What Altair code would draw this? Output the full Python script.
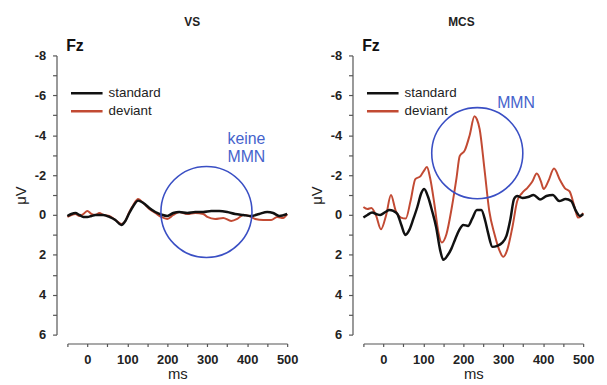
import altair as alt
import pandas as pd

FONT = "Liberation Sans"
RED = "#c24a33"
BLACK = "#111111"
BLUE = "#3a4fc4"

# ---------------- VS panel ----------------
vs_std_ms = [-50, -40, -30, -20, -10, 0, 10, 20, 40, 55, 70, 85, 95, 105, 115, 127, 140, 155, 170, 185,
             200, 215, 230, 250, 270, 290, 310, 330, 350, 370, 390, 410, 430, 450, 465, 480, 500]
vs_std_uv = [0.05, -0.05, -0.1, 0.0, 0.1, 0.1, 0.05, 0.0, 0.0, 0.1, 0.25, 0.5, 0.3, -0.1, -0.45, -0.72, -0.6,
             -0.35, -0.15, -0.02, 0.05, -0.1, -0.15, -0.1, -0.15, -0.15, -0.2, -0.2, -0.15, -0.05, 0.0, 0.05,
             -0.05, -0.15, -0.1, 0.05, -0.05]
vs_dev_ms = [-50, -40, -30, -20, -10, 0, 10, 20, 30, 40, 55, 70, 85, 95, 105, 115, 127, 140, 155, 170, 185,
             200, 215, 230, 250, 270, 290, 300, 320, 340, 360, 375, 390, 405, 420, 440, 460, 475, 490, 500]
vs_dev_uv = [0.1, 0.0, -0.05, 0.05, -0.05, -0.2, -0.05, 0.0, -0.1, 0.0, 0.05, 0.25, 0.45, 0.3, -0.15, -0.5,
             -0.8, -0.6, -0.3, -0.1, 0.1, 0.2, 0.0, -0.15, -0.05, -0.1, -0.05, 0.1, 0.2, 0.15, 0.3, 0.2, 0.0,
             0.05, 0.2, 0.25, 0.25, 0.1, 0.15, -0.05]

# ---------------- MCS panel ----------------
mcs_std_ms = [-50, -40, -28, -18, -8, 5, 15, 25, 35, 45, 55, 65, 75, 85, 95, 102, 112, 122, 132, 142, 150,
              160, 170, 180, 190, 200, 212, 222, 234, 245, 255, 262, 273, 285, 297, 308, 318, 327, 335, 348,
              362, 376, 392, 408, 424, 440, 456, 470, 482, 492, 500]
mcs_std_uv = [0.13, 0.0, -0.12, -0.05, 0.0, -0.15, -0.25, -0.2, -0.05, 0.5, 1.0, 0.75, 0.2, -0.4, -1.1, -1.3,
              -0.9, -0.2, 0.6, 1.75, 2.25, 2.05, 1.7, 1.2, 0.75, 0.5, 0.55, 0.2, -0.25, -0.25, 0.3, 0.9, 1.6,
              1.55, 1.4, 1.05, 0.2, -0.8, -0.95, -0.85, -0.9, -1.0, -0.78, -0.95, -1.0, -0.7, -0.8, -0.7,
              -0.2, 0.05, -0.05]
mcs_dev_ms = [-50, -40, -30, -18, -6, 7, 19, 31, 44, 56, 68, 80, 93, 101, 109, 117, 128, 138, 146, 158, 171,
              183, 191, 204, 216, 228, 234, 241, 253, 265, 278, 290, 300, 310, 323, 335, 347, 360, 372, 384,
              394, 401, 413, 427, 442, 454, 466, 479, 487, 495, 500]
mcs_dev_uv = [-0.4, -0.3, -0.35, 0.05, 0.72, 0.0, -1.0, -0.2, 0.13, 0.18, -0.7, -1.8, -1.95, -2.2, -2.4,
              -1.85, -0.5, 0.9, 1.38, 0.95, -0.35, -1.85, -2.95, -3.25, -4.0, -4.95, -4.8, -4.3, -2.3, -0.2,
              0.95, 1.75, 2.1, 1.75, 0.6, -0.7, -1.1, -1.35, -1.65, -2.08, -1.7, -1.3, -1.7, -2.33, -1.75,
              -1.35, -1.18, -0.36, 0.13, 0.05, -0.1]

panel_titles = ["VS", "MCS"]
circle_ms = [298, 235]
circle_uv = [-0.15, -3.1]
note_lines = [["keine", "MMN"], ["MMN"]]
note_ms = [398, 332]
note_uv = [[-3.8, -2.9], [-5.6]]
title_dx = [15, -12]

series_names = ["standard", "deviant"]
y_ticks = list(range(-8, 7))
x_ticks = list(range(-50, 501, 50))

AX = dict(labelFont=FONT, labelFontSize=13, labelFontWeight="bold", labelColor="#222",
          titleFont=FONT, titleFontWeight="normal", titleColor="#222",
          domainColor="#555", tickColor="#555", domainWidth=1.2, tickWidth=1.2,
          grid=False, labelOverlap=False, labelBound=False)


def panel(i, std_ms, std_uv, dev_ms, dev_uv):
    xs = alt.Scale(domain=[-50, 500], nice=False, zero=False)
    ys = alt.Scale(domain=[-8, 6], reverse=True, nice=False, zero=False)
    xaxis = alt.Axis(values=x_ticks,
                     labelExpr="datum.value % 100 === 0 ? format(datum.value, 'd') : ''",
                     offset=9, title="ms", titleFontSize=15, labelFlush=False, tickSize=3,
                     labelPadding=7, titlePadding=0, **AX)
    yaxis = alt.Axis(values=y_ticks, labelExpr="datum.value % 2 == 0 ? '' + datum.value : ''",
                     offset=11, title="μV", titleFontSize=15, tickSize=4, labelPadding=7,
                     titlePadding=6, **AX)

    std = pd.DataFrame({"ms": std_ms, "uv": std_uv})
    dev = pd.DataFrame({"ms": dev_ms, "uv": dev_uv})

    dev_line = alt.Chart(dev).mark_line(color=RED, strokeWidth=2, interpolate="monotone")
    std_line = alt.Chart(std).mark_line(color=BLACK, strokeWidth=2.5, interpolate="monotone")

    circ = alt.Chart(pd.DataFrame({"ms": [circle_ms[i]], "uv": [circle_uv[i]]})).mark_point(
        shape="circle", size=8464, filled=False, color=BLUE, strokeWidth=1.6, opacity=1)

    notes = pd.DataFrame({"ms": [note_ms[i]] * len(note_lines[i]), "uv": note_uv[i], "t": note_lines[i]})
    note = alt.Chart(notes).mark_text(font=FONT, fontSize=16, color="#4563cc", align="center",
                                      baseline="middle").encode(text="t:N")

    fz = alt.Chart(pd.DataFrame({"ms": [-53], "uv": [-8.45], "t": ["Fz"]})).mark_text(
        font=FONT, fontSize=16, fontWeight="bold", color=BLACK, align="left", baseline="middle").encode(
        text="t:N")

    leg = pd.DataFrame({"ms": [-41, -41], "ms2": [38, 38], "uv": [-6.1, -5.2], "s": series_names})
    leg_rule = alt.Chart(leg).mark_rule(strokeWidth=2.5).encode(
        x2="ms2",
        color=alt.Color("s:N", scale=alt.Scale(domain=series_names, range=[BLACK, RED]), legend=None))
    leg_text = alt.Chart(leg).mark_text(font=FONT, fontSize=13.5, color="#222", align="left",
                                        baseline="middle", dx=38).encode(text="s:N")

    return alt.layer(dev_line, std_line, circ, note, fz, leg_rule, leg_text).encode(
        x=alt.X("ms:Q", scale=xs, axis=xaxis), y=alt.Y("uv:Q", scale=ys, axis=yaxis)
    ).properties(
        width=222, height=282,
        title=alt.TitleParams(panel_titles[i], fontSize=12, fontWeight="bold", font=FONT, frame="group",
                              dx=title_dx[i], offset=10, color="#222"))


left = panel(0, vs_std_ms, vs_std_uv, vs_dev_ms, vs_dev_uv)
right = panel(1, mcs_std_ms, mcs_std_uv, mcs_dev_ms, mcs_dev_uv)

chart = alt.hconcat(left, right, spacing=11).configure(background="white").configure_view(stroke=None)

chart.save("out.html", embed_options={"renderer": "svg", "actions": False})
